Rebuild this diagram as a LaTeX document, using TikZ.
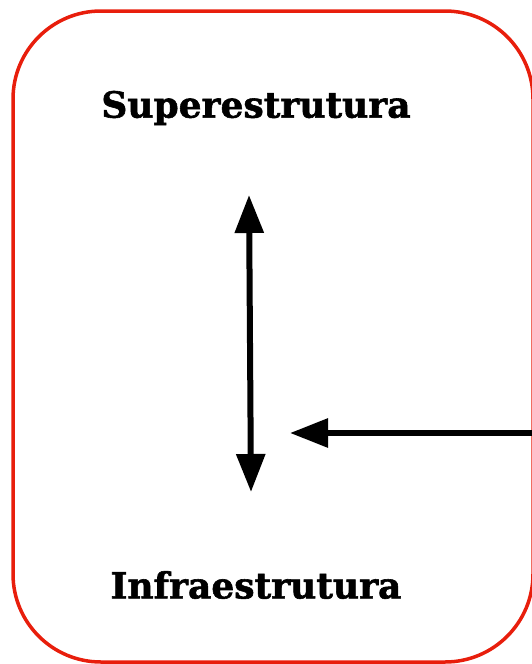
\documentclass[tikz,border=0pt]{standalone}
\usepackage{fontspec}
\setmainfont[BoldFeatures={FakeBold=1.6}]{DejaVu Serif}
\usetikzlibrary{arrows.meta}
\definecolor{boxred}{RGB}{232,30,12}

\begin{document}
\begin{tikzpicture}[x=1pt,y=-1pt,
    label/.style={font=\bfseries\fontsize{36}{42}\selectfont, inner sep=0pt},
    bigarrow/.style={line width=6pt, -{Triangle[length=38pt,width=28pt]}}]
  \useasboundingbox (0,0) rectangle (531,664);
  % outer frame
  \draw[boxred, line width=3.5pt, rounded corners=88pt] (13,11) rectangle (533,662);
  \node[label] (sup) at (256,108) {Superestrutura};
  \node[label] (inf) at (256,585) {Infraestrutura};
  % arrows
  \coordinate (top) at (249,195);
  \coordinate (bot) at (251,492);
  \coordinate (rgt) at (535,433);
  \coordinate (mid) at (290,433);
  \draw[bigarrow, {Triangle[length=38pt,width=28pt]}-{Triangle[length=38pt,width=28pt]}] (top) -- (bot);
  \draw[bigarrow] (rgt) -- (mid);
\end{tikzpicture}
\end{document}
